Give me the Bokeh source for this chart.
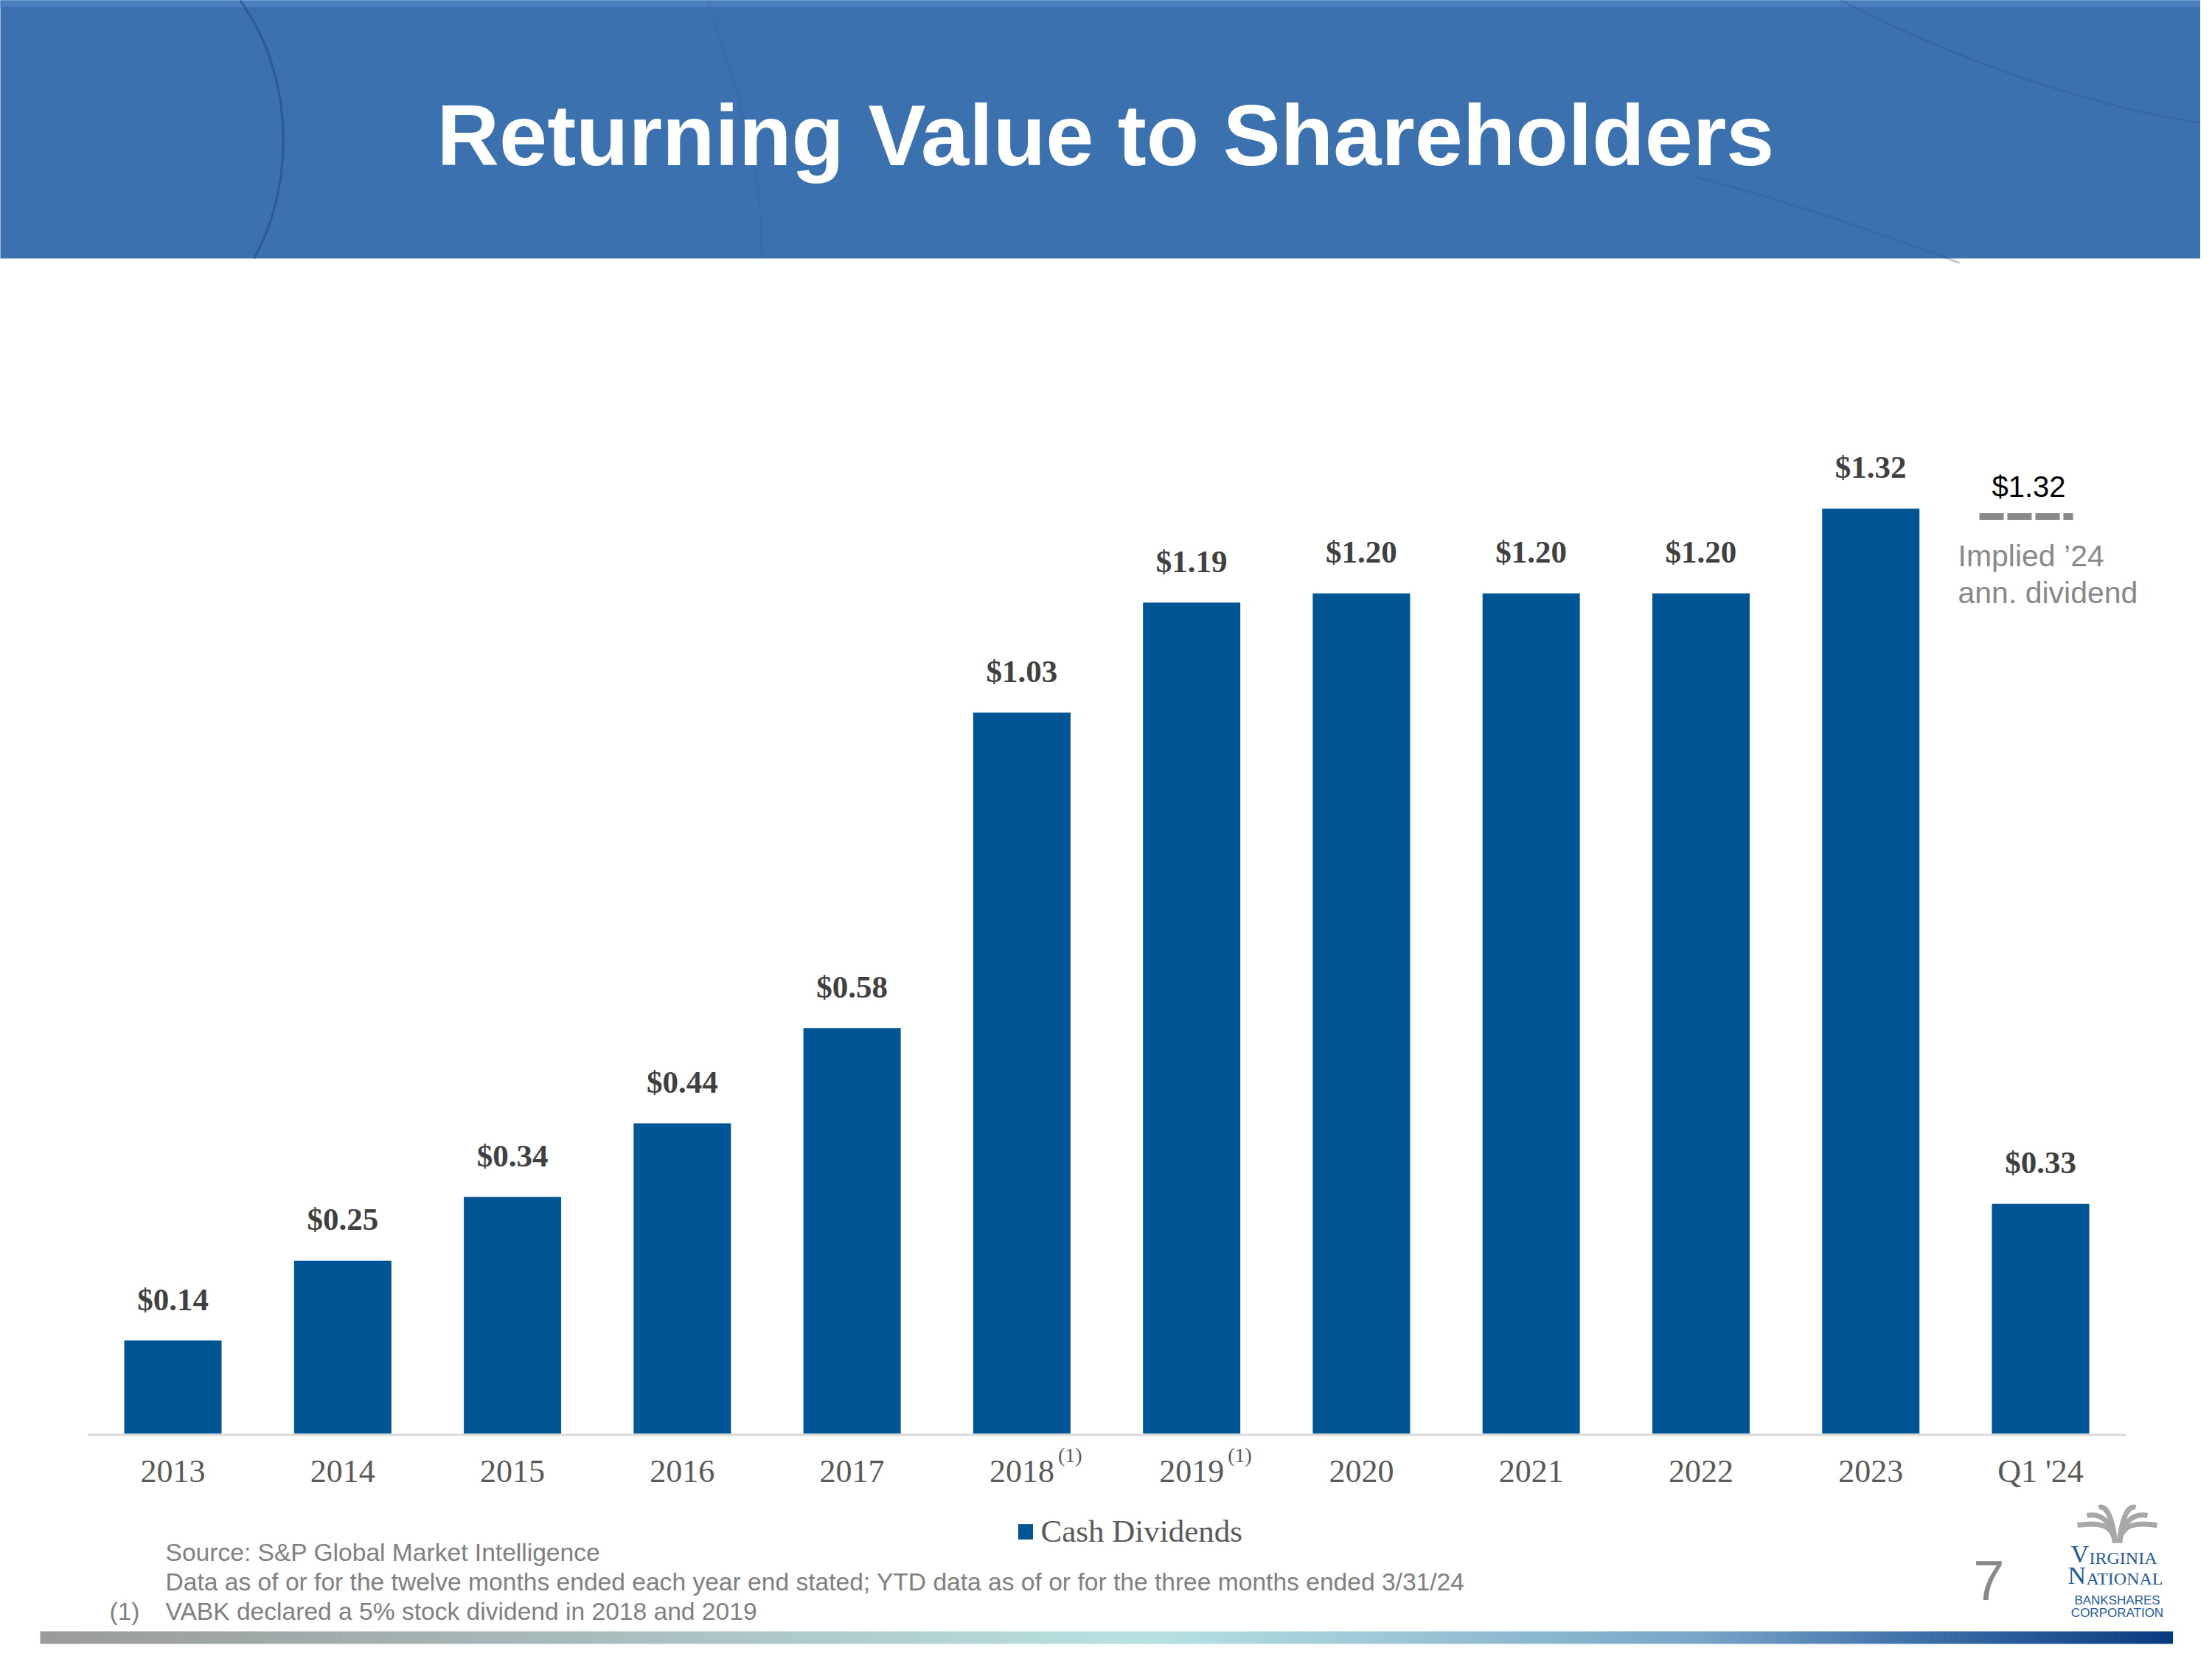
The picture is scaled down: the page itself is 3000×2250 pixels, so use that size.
import numpy as np
from bokeh.plotting import figure
from bokeh.models import (Range1d, LinearAxis, FixedTicker, Legend, LegendItem,
                          ColumnDataSource)
from bokeh.core.properties import value
from bokeh.embed import file_html
from bokeh.resources import INLINE

# ---------------- data ----------------
years = ["2013", "2014", "2015", "2016", "2017", "2018", "2019",
         "2020", "2021", "2022", "2023", "Q1 '24"]
dividends = [0.133, 0.247, 0.338, 0.443, 0.579, 1.029, 1.186,
             1.199, 1.199, 1.199, 1.320, 0.328]
div_labels = ["$0.14", "$0.25", "$0.34", "$0.44", "$0.58", "$1.03", "$1.19",
              "$1.20", "$1.20", "$1.20", "$1.32", "$0.33"]
footnote_years = ["2018", "2019"]
series_name = "Cash Dividends"
implied_value = "$1.32"
implied_text = ["Implied \u201924", "ann. dividend"]
title_text = "Returning Value to Shareholders"
source_lines = ["Source: S&P Global Market Intelligence",
                "Data as of or for the twelve months ended each year end stated; YTD data as of or for the three months ended 3/31/24",
                "VABK declared a 5% stock dividend in 2018 and 2019"]
page_number = "7"

# ---------------- layout ----------------
W, H = 2984, 2234
BASE_Y = 1944.0          # page y of value 0
PXU = 950.5              # pixels per dollar
UNIT_X = 230.27          # pixels per category
X_LEFT = 118.9           # page x of the left edge of the first category slot
LABEL_GAP = 56.0         # pixels between bar top and data-label centre
x_start = -0.5 - X_LEFT / UNIT_X
x_end = x_start + W / UNIT_X
y_start = -(H - BASE_Y) / PXU
y_end = BASE_Y / PXU

idx = list(range(len(years)))


def X(page_x):
    """page pixel x -> category-index coordinate"""
    if np.ndim(page_x):
        return [(v - X_LEFT) / UNIT_X - 0.5 for v in page_x]
    return (page_x - X_LEFT) / UNIT_X - 0.5


p = figure(width=W, height=H,
           x_range=Range1d(x_start, x_end), y_range=Range1d(y_start, y_end),
           output_backend="svg", toolbar_location=None,
           x_axis_location=None, y_axis_location=None,
           min_border=0, outline_line_color=None,
           background_fill_color="white", border_fill_color="white")
p.grid.visible = False
p.extra_y_ranges = {"px": Range1d(H, 0)}
PX = dict(y_range_name="px")
MID = dict(text_baseline="middle")

# ---------------- banner ----------------
p.quad(left=[X(-20)], right=[X(3020)], top=[-10], bottom=[350], fill_color="#3c71b0", line_color=None, **PX)
p.quad(left=[X(-20)], right=[X(3020)], top=[-10], bottom=[9], fill_color="#4a80c0", line_color=None, **PX)
p.bezier(x0=X([325, 2496, 2300, 960]), y0=[0, 0, 240, 0],
         x1=X([344, 3000, 2657, 1030]), y1=[350, 168, 356, 350],
         cx0=X([405, 2650, 2420, 1000]), cy0=[110, 80, 270, 120],
         cx1=X([395, 2850, 2560, 1040]), cy1=[260, 150, 320, 250],
         line_color="#2a5585", line_width=3, line_alpha=[0.8, 0.35, 0.3, 0.15], **PX)
p.text(x=[X(1499)], y=[183], text=[title_text], text_font=value("Liberation Sans"),
       text_font_style="bold", text_font_size="117px", text_color="white",
       text_align="center", **MID, **PX)

# ---------------- bars ----------------
src = ColumnDataSource(dict(x=idx, year=years, div=dividends, lab=div_labels,
                            ly=[d + LABEL_GAP / PXU for d in dividends]))
bars = p.vbar(x="x", top="div", width=132.0 / UNIT_X, source=src,
              fill_color="#005594", line_color=None)
p.segment(x0=[-0.5], y0=[-1.5 / PXU], x1=[len(years) - 0.5], y1=[-1.5 / PXU],
          line_color="#d9d9d9", line_width=3)

ax = LinearAxis(fixed_location=0, axis_line_color=None,
                ticker=FixedTicker(ticks=idx),
                major_label_overrides={i: y for i, y in zip(idx, years)},
                major_tick_line_color=None, minor_tick_line_color=None,
                major_label_text_font="Liberation Serif",
                major_label_text_font_size="44px",
                major_label_text_color="#595959",
                major_label_standoff=20)
p.add_layout(ax, "below")

p.text(x="x", y="ly", text="lab", source=src, text_font=value("Liberation Serif"),
       text_font_style="bold", text_font_size="43px", text_color="#404040",
       text_align="center", **MID)

fn_x = [years.index(y) for y in footnote_years]
p.text(x=fn_x, y=[-(1973 - BASE_Y) / PXU] * len(fn_x),
       text=["(1)"] * len(fn_x), x_offset=49,
       text_font=value("Liberation Serif"), text_font_size="28px",
       text_color="#595959", text_align="left", **MID)

# ---------------- legend ----------------
legend = Legend(items=[LegendItem(label=series_name, renderers=[bars])],
                location=(1377.5, 133), orientation="horizontal",
                glyph_width=25, glyph_height=26, label_standoff=9,
                label_text_font="Liberation Serif", label_text_font_size="43px",
                label_text_color="#595959", padding=0, margin=0, spacing=0,
                border_line_color=None, background_fill_alpha=0)
p.add_layout(legend)

# ---------------- implied annotation ----------------
p.text(x=[X(2751)], y=[659], text=[implied_value], text_font=value("Liberation Sans"),
       text_font_size="40px", text_color="#000000", text_align="center", **MID, **PX)
p.segment(x0=[X(2684)], y0=[700], x1=[X(2811)], y1=[700], line_color="#898989",
          line_width=9, line_dash="33 5", **PX)
p.text(x=X([2655, 2655]), y=[753, 803], text=implied_text, text_font=value("Liberation Sans"),
       text_font_size="41px", text_color="#898989", text_align="left", **MID, **PX)

# ---------------- footnotes ----------------
p.text(x=X([224, 224, 224]), y=[2105, 2145, 2185], text=source_lines,
       text_font=value("Liberation Sans"), text_font_size="33.6px", text_color="#808080",
       text_align="left", **MID, **PX)
p.text(x=[X(148)], y=[2185], text=["(1)"], text_font=value("Liberation Sans"),
       text_font_size="33.6px", text_color="#808080", text_align="left", **MID, **PX)
p.text(x=[X(2697)], y=[2143], text=[page_number], text_font=value("Liberation Sans"),
       text_font_size="76px", text_color="#898989", text_align="center", **MID, **PX)

# ---------------- logo ----------------
LOGO_BLUE = "#1f5b9b"
p.text(x=X([2808, 2804]), y=[2107, 2136], text=["V", "N"], text_font=value("Liberation Serif"),
       text_font_size="34px", text_color=LOGO_BLUE, text_align="left", **MID, **PX)
p.text(x=X([2833, 2829]), y=[2112, 2140], text=["IRGINIA", "ATIONAL"],
       text_font=value("Liberation Serif"), text_font_size="24px", text_color=LOGO_BLUE,
       text_align="left", **MID, **PX)
p.text(x=X([2871, 2871]), y=[2170, 2187], text=["BANKSHARES", "CORPORATION"],
       text_font=value("Liberation Sans"), text_font_size="17px", text_color=LOGO_BLUE,
       text_align="center", **MID, **PX)
cx = 2871
ends_l = [(2817, 2068), (2830, 2055), (2846, 2044)]
bx0, by0, bx1, by1, c0x, c0y, c1x, c1y = [], [], [], [], [], [], [], []
for (ex, ey) in ends_l:
    for sgn in (-1, 1):
        bx0.append(cx + sgn * 3); by0.append(2092)
        bx1.append(cx + sgn * (cx - ex)); by1.append(ey)
        c0x.append(cx + sgn * 5); c0y.append(2066)
        c1x.append(cx + sgn * (cx - ex) * 0.5); c1y.append(ey - 4)
p.bezier(x0=X(bx0), y0=by0, x1=X(bx1), y1=by1, cx0=X(c0x), cy0=c0y, cx1=X(c1x), cy1=c1y,
         line_color="#a8a8a8", line_width=7, **PX)

# ---------------- footer gradient bar ----------------
stops_x = [54, 800, 1550, 2300, 2600, 2946]
stops_c = ["#9b9b9b", "#a9bcbc", "#b8e2e2", "#7aa6c8", "#3f70aa", "#0a3a7e"]
rgb = np.array([[int(c[i:i + 2], 16) for i in (1, 3, 5)] for c in stops_c], dtype=float)
edges = np.linspace(54, 2946, 361)
mids = (edges[:-1] + edges[1:]) / 2
cols = []
for m in mids:
    r_ = np.interp(m, stops_x, rgb[:, 0]); g_ = np.interp(m, stops_x, rgb[:, 1]); b_ = np.interp(m, stops_x, rgb[:, 2])
    cols.append("#%02x%02x%02x" % (int(r_), int(g_), int(b_)))
p.quad(left=X(list(edges[:-1])), right=X(list(edges[1:] + 0.6)), top=[2212] * len(mids),
       bottom=[2229] * len(mids), fill_color=cols, line_color=None, **PX)

open("out.html", "w").write(file_html(p, INLINE))
